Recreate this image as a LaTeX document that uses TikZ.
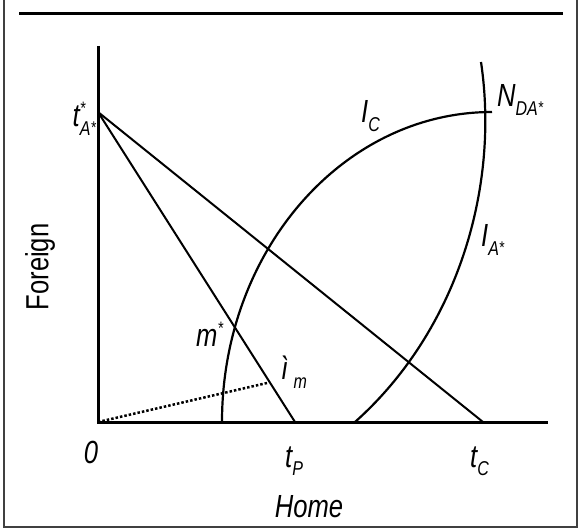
\documentclass[tikz,border=0pt]{standalone}
\usepackage{fontspec}
\setmainfont{Liberation Sans}[FakeStretch=0.8]
\usetikzlibrary{positioning}
% small raised / lowered pieces of the labels
\newcommand\lo[1]{\raisebox{-0.28em}{\fontsize{20}{20}\selectfont #1}}
\newcommand\hi[1]{\raisebox{0.40em}{\fontsize{18}{18}\selectfont #1}}
\newcommand\st{\raisebox{0.1em}{\fontsize{17}{17}\selectfont*}}

\begin{document}
\begin{tikzpicture}[
  x=1pt, y=-1pt,
  font=\fontsize{32}{36}\selectfont,
  frame/.style={draw=black!75, line width=2pt},
  ax/.style   ={draw=black, line width=3pt, line join=miter},
  budget/.style={draw=black, line width=2pt},
  iso/.style  ={draw=black, line width=2.2pt},
  ray/.style  ={draw=black, line width=2.5pt, dotted},
  lbl/.style  ={inner sep=0pt, font=\fontsize{32}{36}\selectfont\itshape},
]
\useasboundingbox (0,0) rectangle (582,532);

% ==================================================== frame and rule
\draw[frame] (4,-10) -- (4,527) -- (577,527) -- (577,-10);
\draw[ax] (19,13.5) -- (563,13.5);

% ==================================================== axes
\coordinate (O)   at (98,422);
\coordinate (top) at (98,46);
\coordinate (end) at (548,422);
\draw[ax] (top) -- (O) -- (end);

% the two price lines from the foreign intercept
\coordinate (tA) at (98,112);
\coordinate (tP) at (295,422);
\coordinate (tC) at (483,422);
\draw[budget] (tA) -- (tP);
\draw[budget] (tA) -- (tC);

% indifference curves
\coordinate (ic0) at (222,422);
\coordinate (ic1) at (492,112);
\draw[iso] (ic0) .. controls (222,251) and (343,112) .. (ic1);
\coordinate (ia0) at (355,422);
\coordinate (ia1) at (481,62);
\draw[iso] (ia0) .. controls (456,332) and (500,190) .. (ia1);

% the dotted ray
\coordinate (mu) at (267,383);
\draw[ray] (O) -- (mu);

% ==================================================== labels
\node[lbl, anchor=base east] (tAl) at (96,127)
  {t\rlap{\hi{*}}\lo{A\st}};
\node[lbl, anchor=base west] (Nl) at (497,107) {N\lo{DA\st}};
\node[lbl, anchor=base west] (ICl) at (361,123) {I\lo{C}};
\node[lbl, anchor=base west] (IAl) at (481,247) {I\lo{A\st}};
\node[lbl, anchor=base west] (ml) at (196,347) {m\hi{*}};
\node[lbl, anchor=base west] (mul) at (281,380) {ì\,\lo{m}};

\node[lbl, anchor=base] (zero) at (91,463) {0};
\node[lbl, anchor=base west] (tPl) at (285,467) {t\lo{P}};
\node[lbl, anchor=base west] (tCl) at (470,467) {t\lo{C}};
\node[lbl, anchor=base] (home) at (309,517) {Home};
\node[inner sep=0pt, rotate=90] (foreign) at (40,267) {Foreign};

\end{tikzpicture}
\end{document}
